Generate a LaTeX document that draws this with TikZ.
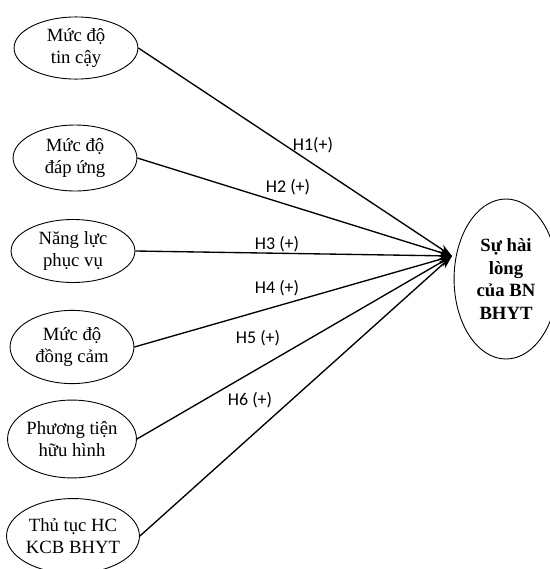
\documentclass[tikz,border=0pt]{standalone}
\usepackage{fontspec}
\setmainfont{Liberation Serif}
\newfontfamily\labelfont{Carlito}
\usetikzlibrary{positioning,arrows.meta,shapes.geometric}

\begin{document}
\begin{tikzpicture}[x=0.0235cm,y=-0.0235cm,->,>={Stealth[length=9pt,width=6pt]},line width=0.9pt]
  \tikzstyle{factor}=[ellipse,draw,line width=0.6pt,minimum width=2.91cm,inner sep=0pt,align=center,font=\fontsize{12.5}{15}\selectfont]
  \tikzstyle{hyp}=[font=\labelfont\fontsize{12}{14}\selectfont,inner sep=1pt]
  \useasboundingbox (0,0) rectangle (549,569);

  % cac nhan to
  \node[factor,minimum height=1.46cm] (tincay) at (76,48) {Mức độ\\tin cậy};
  \node[factor,minimum height=1.55cm] (dapung) at (75,158) {Mức độ\\đáp ứng};
  \node[factor,minimum height=1.48cm] (nangluc) at (73,251) {Năng lực\\phục vụ};
  \node[factor,minimum height=1.72cm] (dongcam) at (72,347) {Mức độ\\đồng cảm};
  \node[factor,minimum height=1.83cm] (phuongtien) at (72,439) {Phương tiện\\hữu hình};
  \node[factor,minimum height=1.76cm] (thutuc) at (73,536) {Thủ tục HC\\KCB BHYT};

  % bien phu thuoc
  \node[factor,minimum width=2.44cm,minimum height=3.76cm,font=\bfseries\fontsize{12.5}{15}\selectfont] (hailong) at (506,279) {Sự hài\\lòng\\của BN\\BHYT};
  \coordinate (tip) at (452,256);

  % cac gia thuyet
  \draw (tincay.east) -- (tip);
  \draw (dapung.east) -- (tip);
  \draw (nangluc.east) -- (tip);
  \draw (dongcam.east) -- (tip);
  \draw (phuongtien.east) -- (tip);
  \draw (thutuc.east) -- (tip);

  \node[hyp] (h1) at (313,145) {H1(+)};
  \node[hyp] (h2) at (288,187) {H2 (+)};
  \node[hyp] (h3) at (277,244) {H3 (+)};
  \node[hyp] (h4) at (277,288) {H4 (+)};
  \node[hyp] (h5) at (258,338) {H5 (+)};
  \node[hyp] (h6) at (250,400) {H6 (+)};
\end{tikzpicture}
\end{document}
